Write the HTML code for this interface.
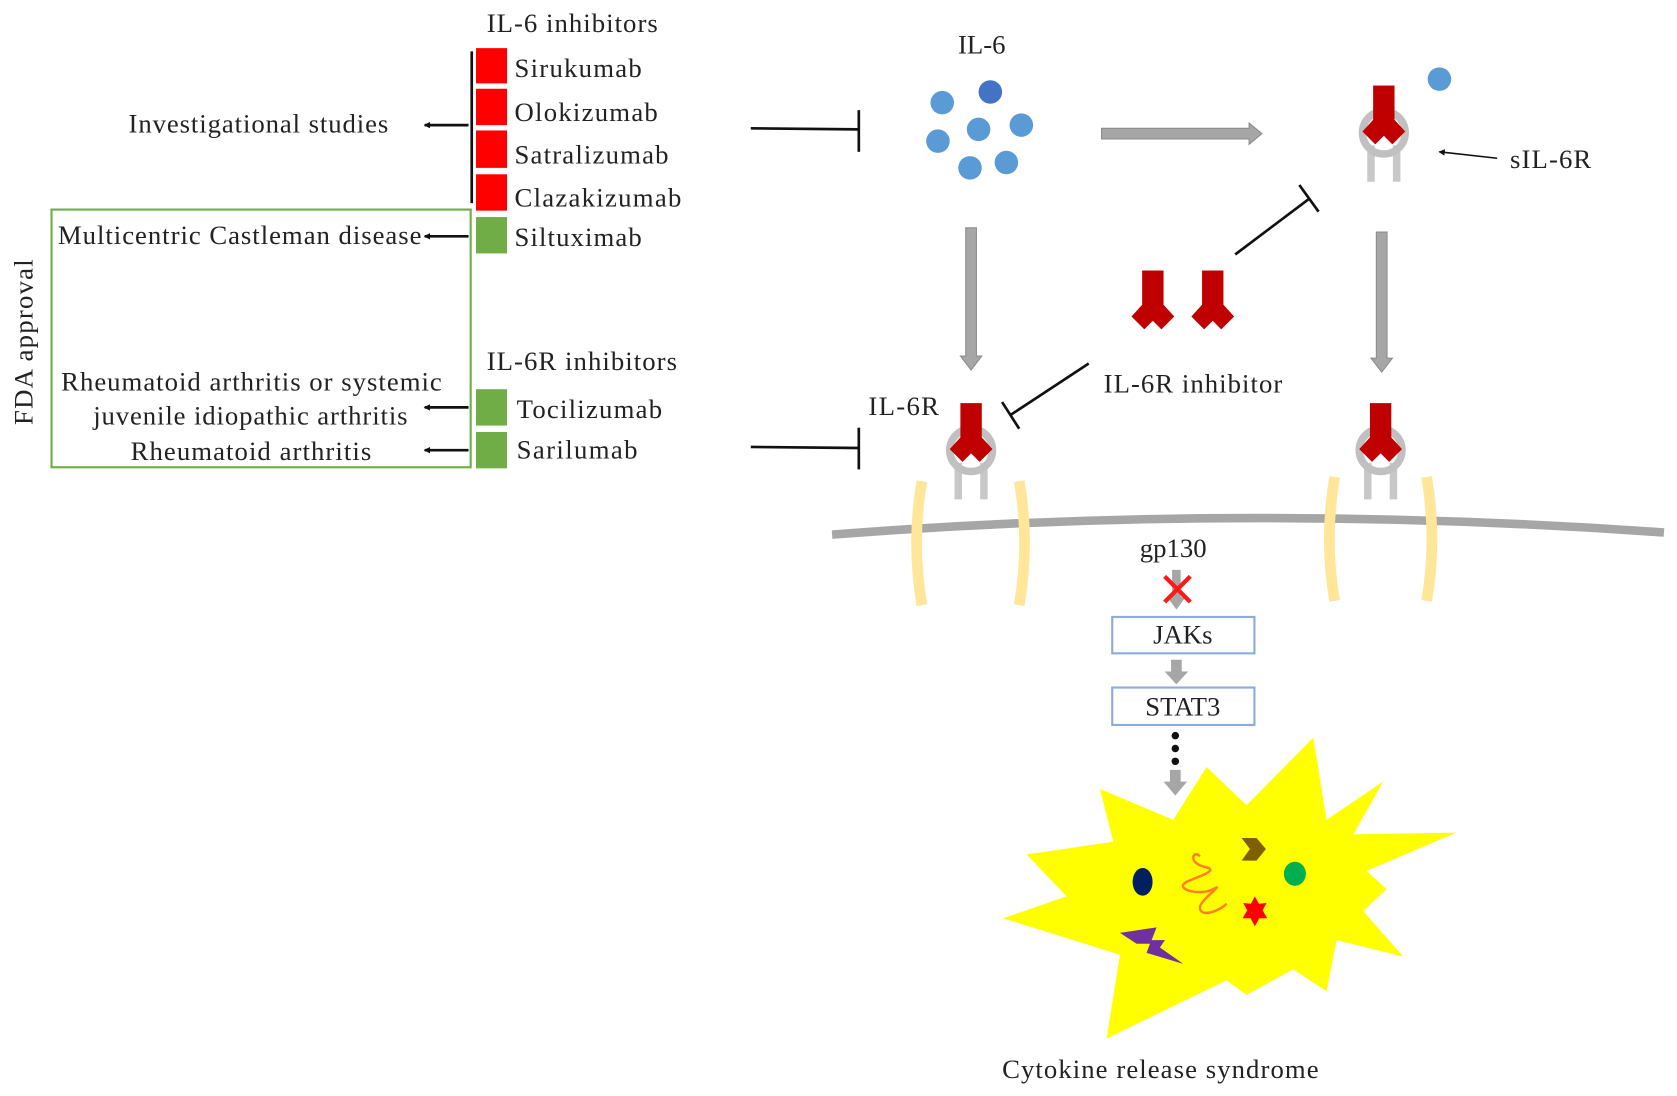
<!DOCTYPE html>
<html><head><meta charset="utf-8"><style>
html,body{margin:0;padding:0;background:#fff;}
svg{display:block;}
text{font-family:"Liberation Serif",serif;fill:#222;}
</style></head><body>
<svg width="1677" height="1096" viewBox="0 0 1568 1025" xmlns="http://www.w3.org/2000/svg">
<defs>
<marker id="ah" markerWidth="6" markerHeight="6" refX="5" refY="3" orient="auto" markerUnits="userSpaceOnUse"><path d="M0,0 L6,3 L0,6 Z" fill="#111"/></marker>
<g id="rec">
  <line x1="-12" y1="12" x2="-12" y2="46" stroke="#c8c8c8" stroke-width="7"/>
  <line x1="12" y1="12" x2="12" y2="46" stroke="#c8c8c8" stroke-width="7"/>
  <circle cx="0" cy="0" r="20" fill="none" stroke="#c0c0c0" stroke-width="7"/>
  <rect x="-10" y="-44" width="20" height="34" fill="#c00000"/>
  <path d="M-10,-12 L10,-12 L20,-1 L8,11 L0,3 L-8,11 L-20,-1 Z" fill="#c00000"/>
</g>
<g id="ab">
  <rect x="-10" y="0" width="20" height="34" fill="#c00000"/>
  <path d="M-10,32 L10,32 L20,43 L8,55 L0,47 L-8,55 L-20,43 Z" fill="#c00000"/>
</g>
</defs>

<!-- Left panel -->
<text x="535" y="30" font-size="25" text-anchor="middle" textLength="160">IL-6 inhibitors</text>
<line x1="441" y1="48" x2="441" y2="190" stroke="#111" stroke-width="2.5"/>
<rect x="445" y="45" width="29" height="33" fill="#ff0000"/>
<rect x="445" y="83" width="29" height="34" fill="#ff0000"/>
<rect x="445" y="122" width="29" height="35" fill="#ff0000"/>
<rect x="445" y="163" width="29" height="34" fill="#ff0000"/>
<text x="481" y="72" font-size="25" textLength="119">Sirukumab</text>
<text x="481" y="113" font-size="25" textLength="134">Olokizumab</text>
<text x="481" y="153" font-size="25" textLength="144">Satralizumab</text>
<text x="481" y="193" font-size="25" textLength="156">Clazakizumab</text>
<rect x="445" y="203" width="29" height="34" fill="#70ad47"/>
<text x="481" y="230" font-size="25" textLength="119">Siltuximab</text>

<text x="120" y="124" font-size="25" textLength="243">Investigational studies</text>
<line x1="438" y1="117" x2="397" y2="117" stroke="#111" stroke-width="2.5" marker-end="url(#ah)"/>

<rect x="48" y="196" width="392" height="241" fill="none" stroke="#70ad47" stroke-width="2"/>
<text x="54" y="228" font-size="25" textLength="340">Multicentric Castleman disease</text>
<line x1="438" y1="221" x2="397" y2="221" stroke="#111" stroke-width="2.5" marker-end="url(#ah)"/>
<text transform="translate(30,320) rotate(-90)" font-size="25" text-anchor="middle" textLength="155">FDA approval</text>

<text x="455" y="346" font-size="25" textLength="178">IL-6R inhibitors</text>
<rect x="445" y="364" width="29" height="34" fill="#70ad47"/>
<rect x="445" y="404" width="29" height="34" fill="#70ad47"/>
<text x="483" y="391" font-size="25" textLength="136">Tocilizumab</text>
<text x="483" y="429" font-size="25" textLength="113">Sarilumab</text>
<text x="57" y="365" font-size="25" textLength="356">Rheumatoid arthritis or systemic</text>
<text x="87" y="397" font-size="25" textLength="294">juvenile idiopathic arthritis</text>
<text x="122" y="430" font-size="25" textLength="225">Rheumatoid arthritis</text>
<line x1="438" y1="381" x2="397" y2="381" stroke="#111" stroke-width="2.5" marker-end="url(#ah)"/>
<line x1="438" y1="421" x2="397" y2="421" stroke="#111" stroke-width="2.5" marker-end="url(#ah)"/>

<!-- inhibition bars from left -->
<line x1="702" y1="120" x2="803" y2="121" stroke="#111" stroke-width="2.5"/>
<line x1="803" y1="103" x2="803" y2="142" stroke="#111" stroke-width="2.5"/>
<line x1="702" y1="418" x2="803" y2="419" stroke="#111" stroke-width="2.5"/>
<line x1="803" y1="400" x2="803" y2="439" stroke="#111" stroke-width="2.5"/>

<!-- IL-6 -->
<text x="918" y="50" font-size="25" text-anchor="middle">IL-6</text>
<g fill="#5b9bd5">
<circle cx="881" cy="96" r="11"/>
<circle cx="926" cy="86" r="11" fill="#4472c4"/>
<circle cx="955" cy="117" r="11"/>
<circle cx="915" cy="121" r="11"/>
<circle cx="877" cy="132" r="11"/>
<circle cx="907" cy="157" r="11"/>
<circle cx="941" cy="152" r="11"/>
<circle cx="1346" cy="74" r="11"/>
</g>

<!-- gray arrows -->
<g fill="#a6a6a6" stroke="#8c8c8c" stroke-width="1">
<path d="M1030,120 L1168,120 L1168,115 L1180,125 L1168,135 L1168,130 L1030,130 Z"/>
<path d="M903,213 L913,213 L913,333 L918,333 L908,346 L898,333 L903,333 Z"/>
<path d="M1287,217 L1297,217 L1297,335 L1302,335 L1292,348 L1282,335 L1287,335 Z"/>
</g>

<!-- receptors -->
<use href="#rec" x="1294" y="124"/>
<use href="#rec" x="908" y="421"/>
<use href="#rec" x="1291" y="421"/>

<line x1="1400" y1="148" x2="1346" y2="142" stroke="#111" stroke-width="1.5" marker-end="url(#ah)"/>
<text x="1412" y="157" font-size="25" textLength="76">sIL-6R</text>

<!-- inhibitor antibodies -->
<use href="#ab" x="1078" y="253"/>
<use href="#ab" x="1134" y="253"/>
<text x="1032" y="367" font-size="25" textLength="167">IL-6R inhibitor</text>
<line x1="1155" y1="238" x2="1224" y2="186" stroke="#111" stroke-width="2.5"/>
<line x1="1215" y1="173" x2="1233" y2="198" stroke="#111" stroke-width="2.5"/>
<line x1="1018" y1="340" x2="945" y2="388" stroke="#111" stroke-width="2.5"/>
<line x1="937" y1="376" x2="953" y2="401" stroke="#111" stroke-width="2.5"/>
<text x="812" y="388" font-size="25" textLength="66">IL-6R</text>

<!-- membrane -->
<path d="M778,500 Q1160,470 1556,498" fill="none" stroke="#a6a6a6" stroke-width="8"/>
<g fill="none" stroke="#ffe699" stroke-width="10">
<path d="M862,450 Q852,507 862,566"/>
<path d="M953,450 Q963,507 953,566"/>
<path d="M1248,446 Q1238,505 1248,562"/>
<path d="M1334,446 Q1344,505 1334,562"/>
</g>

<!-- pathway -->
<text x="1097" y="521" font-size="25" text-anchor="middle">gp130</text>
<path d="M1096,533 L1104,533 L1104,558 L1109,558 L1100,570 L1091,558 L1096,558 Z" fill="#a6a6a6"/>
<path d="M1089,539 L1113,563 M1113,539 L1089,563" stroke="#ff1a1a" stroke-width="4"/>
<rect x="1040" y="577" width="133" height="34" fill="#fff" stroke="#8faadc" stroke-width="2"/>
<text x="1106" y="602" font-size="25" text-anchor="middle">JAKs</text>
<path d="M1095,617 L1105,617 L1105,628 L1111,628 L1100,640 L1089,628 L1095,628 Z" fill="#a6a6a6"/>
<rect x="1040" y="643" width="133" height="35" fill="#fff" stroke="#8faadc" stroke-width="2"/>
<text x="1106" y="669" font-size="25" text-anchor="middle">STAT3</text>
<circle cx="1099" cy="688" r="3.5" fill="#111"/>
<circle cx="1099" cy="700" r="3.5" fill="#111"/>
<circle cx="1099" cy="712" r="3.5" fill="#111"/>

<!-- starburst -->
<g transform="translate(897.6,487.1) scale(0.31167,0.341)">
<path d="M420,735 L640,820 L740,675 L860,780 L1060,595 L1100,820 L1270,715 L1180,860 L1490,855 L1220,960 L1280,1010 L1210,1070 L1330,1195 L1130,1150 L1100,1290 L1000,1230 L860,1300 L800,1260 L440,1420 L480,1190 L130,1090 L320,1030 L200,915 L460,880 Z" fill="#ffff00"/>
<ellipse cx="548" cy="990" rx="30" ry="38" fill="#002060"/>
<path d="M720,920 C700,900 680,940 740,950 C780,960 700,980 680,990 C640,1010 720,1030 760,1010 C800,990 720,1040 720,1060 C720,1090 780,1070 800,1050" fill="none" stroke="#ff7f27" stroke-width="7"/>
<path d="M845,870 L890,870 L918,900 L890,932 L845,932 L870,900 Z" fill="#7f6000"/>
<circle cx="1005" cy="968" r="33" fill="#00b050"/>
<path d="M885,1030 L897,1050 L920,1048 L908,1068 L922,1090 L898,1090 L885,1112 L872,1090 L848,1090 L862,1068 L850,1048 L873,1050 Z" fill="#ff0000"/>
<path d="M480,1130 L590,1115 L575,1150 L615,1150 L600,1170 L670,1215 L560,1185 L570,1160 L530,1160 Z" fill="#7030a0"/>
</g>
<path d="M1094,720 L1104,720 L1104,731 L1110,731 L1099,744 L1088,731 L1094,731 Z" fill="#a6a6a6"/>
<text x="1085" y="1008" font-size="25" text-anchor="middle" textLength="296">Cytokine release syndrome</text>
</svg>
</body></html>
